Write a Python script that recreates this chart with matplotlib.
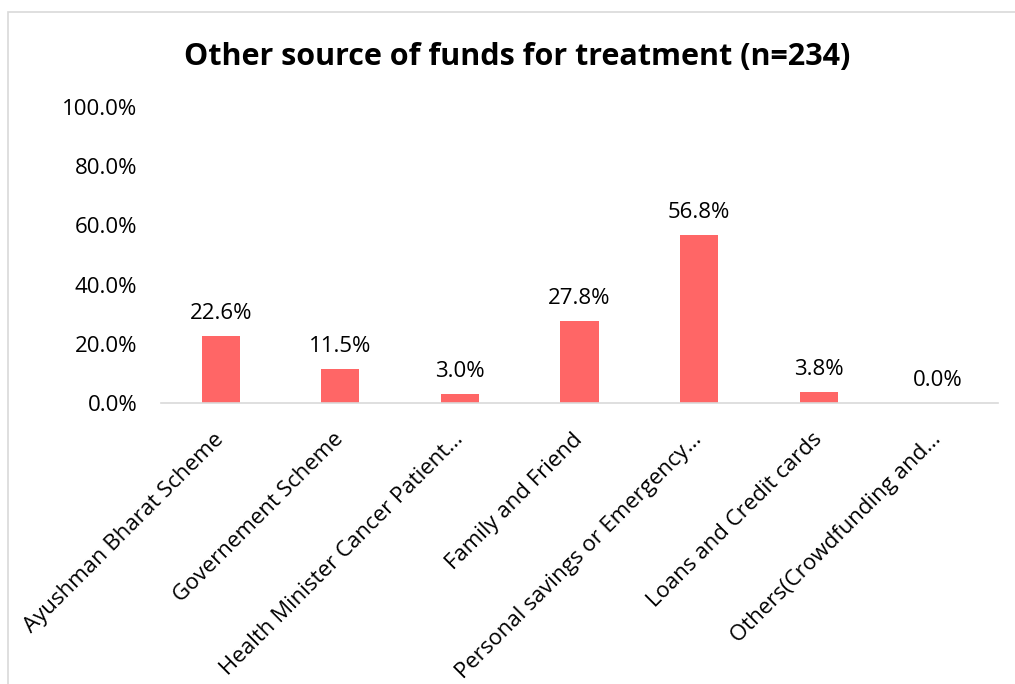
import matplotlib
matplotlib.use('Agg')
import matplotlib.pyplot as plt
import matplotlib.patches as patches
from matplotlib.ticker import FuncFormatter

plt.rcParams['font.family'] = ['Open Sans', 'DejaVu Sans']

categories = [
    'Ayushman Bharat Scheme',
    'Governement Scheme',
    'Health Minister Cancer Patient…',
    'Family and Friend',
    'Personal savings or Emergency…',
    'Loans and Credit cards',
    'Others(Crowdfunding and…',
]
values = [22.6, 11.5, 3.0, 27.8, 56.8, 3.8, 0.0]
yticks = [0, 20, 40, 60, 80, 100]

bar_color = '#FF6666'

fig = plt.figure(figsize=(10.15, 6.84), dpi=100)
ax = fig.add_axes([161 / 1015, 0.4108, 837 / 1015, 0.4327])

x = list(range(len(categories)))
bars = ax.bar(x, values, width=0.32, color=bar_color)

# value labels above each bar
for b, v in zip(bars, values):
    ax.annotate(f'{v:.1f}%', (b.get_x() + b.get_width() / 2, v),
                xytext=(0, 8.5), textcoords='offset points',
                ha='center', va='bottom', fontsize=16, color='#000000')

ax.set_xlim(-0.5, len(categories) - 0.5)
ax.set_ylim(0, 100)
ax.set_yticks(yticks)
ax.yaxis.set_major_formatter(FuncFormatter(lambda v, p: f'{v:.1f}%'))
ax.set_xticks(x)
ax.set_xticklabels(categories, rotation=45, ha='right', va='center',
                   rotation_mode='anchor', fontsize=16)
ax.tick_params(axis='both', length=0, labelsize=16, colors='#000000')
ax.tick_params(axis='y', pad=17)
ax.tick_params(axis='x', pad=24)

for s in ['top', 'right', 'left']:
    ax.spines[s].set_visible(False)
ax.spines['bottom'].set_color('#D9D9D9')
ax.spines['bottom'].set_linewidth(1.2)

fig.text(517 / 1015, 1 - 57 / 684, 'Other source of funds for treatment (n=234)',
         ha='center', va='center', fontsize=22, fontweight='bold')

# chart area border (cut off at right and bottom like the original)
border = patches.Rectangle((8 / 1015, -0.1), 1.2, 1 - 12 / 684 + 0.1,
                           transform=fig.transFigure, fill=False,
                           edgecolor='#D9D9D9', linewidth=1.2)
fig.patches.append(border)

fig.savefig('out.png', dpi=100)
